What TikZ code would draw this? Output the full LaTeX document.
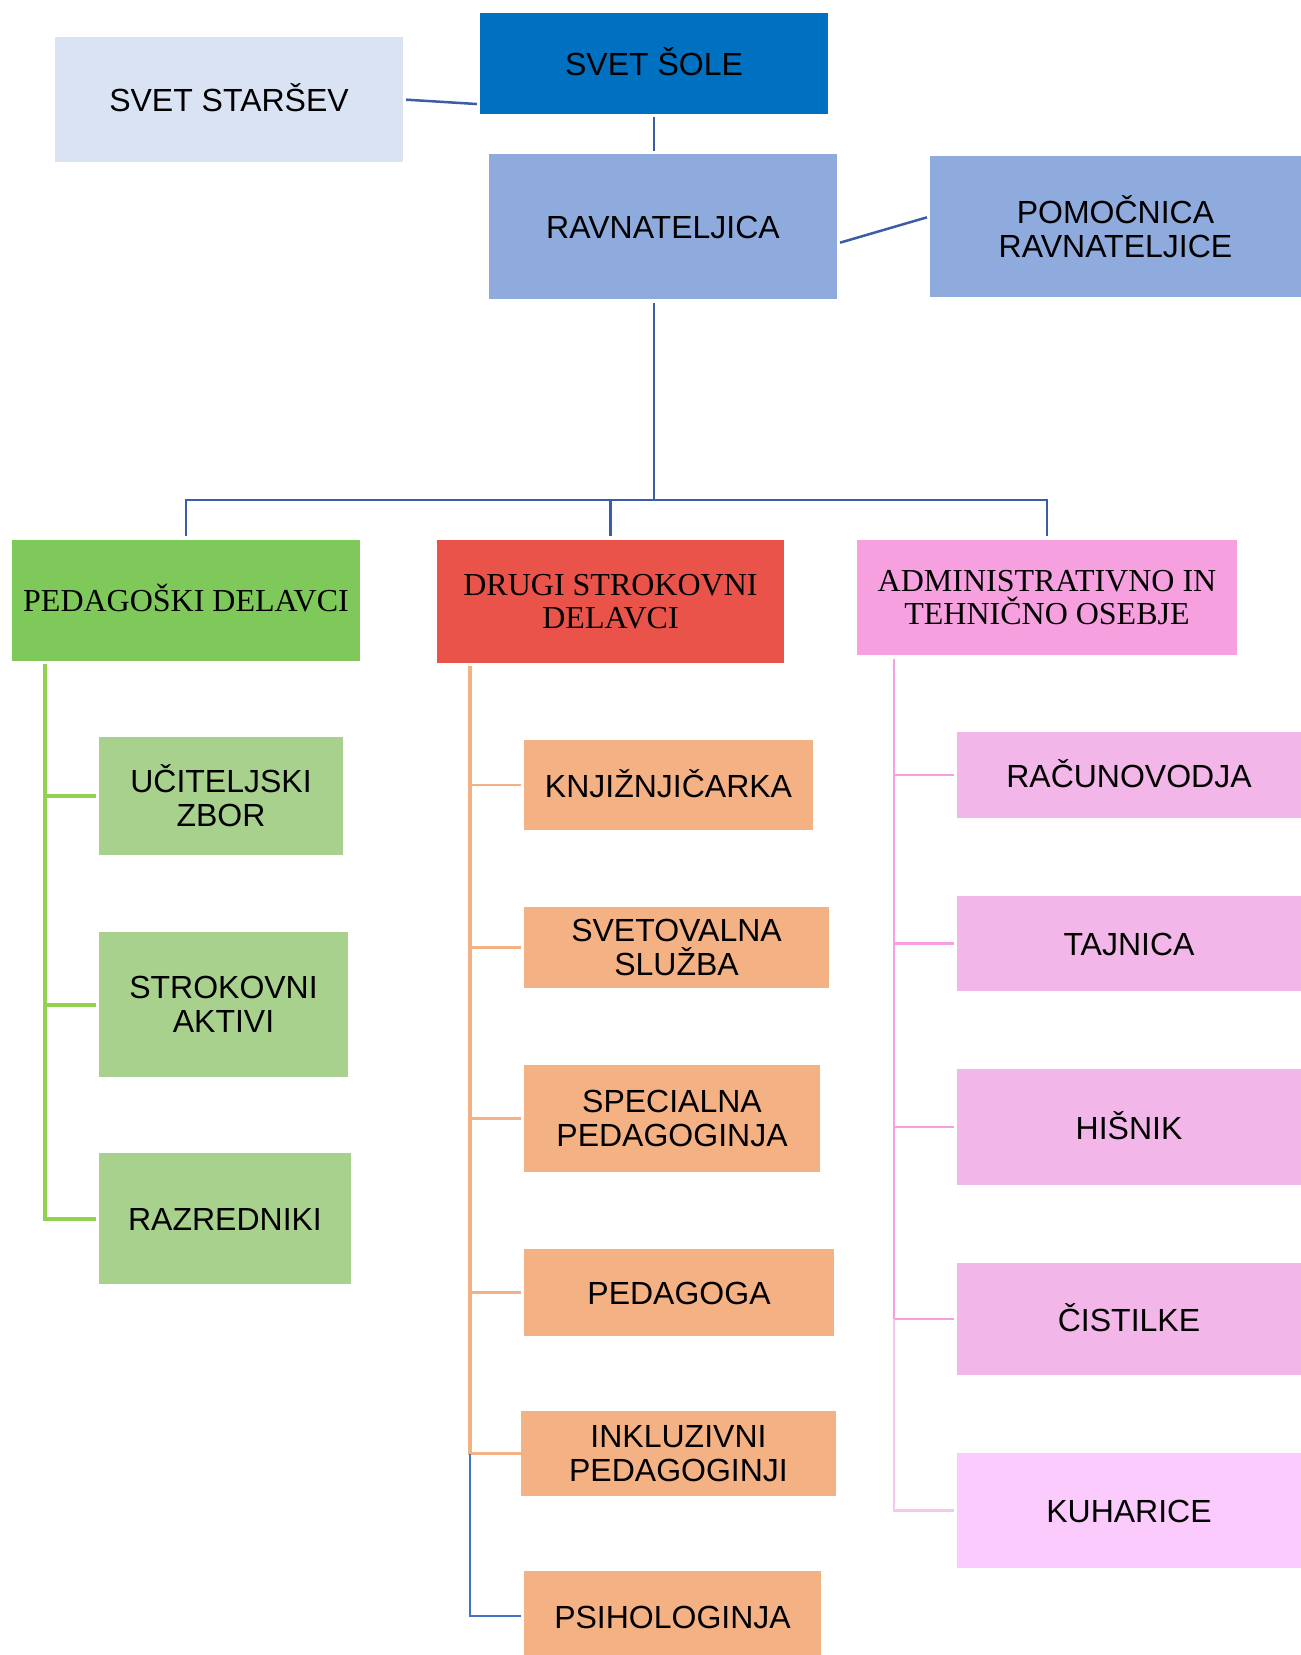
\documentclass[tikz,border=0pt]{standalone}
\usepackage{fontspec}
\setmainfont{Liberation Serif}
\newfontfamily\arialfont{Liberation Sans}
\usepackage{tikz}

\definecolor{starsevfill}{HTML}{DAE3F3}
\definecolor{solefill}{HTML}{0070C0}
\definecolor{ravnfill}{HTML}{8FAADC}
\definecolor{pedfill}{HTML}{7FC95A}
\definecolor{greenfill}{HTML}{A9D18E}
\definecolor{drugifill}{HTML}{E9534A}
\definecolor{orangefill}{HTML}{F4B183}
\definecolor{admfill}{HTML}{F7A0E0}
\definecolor{pinkfill}{HTML}{F2B6E8}
\definecolor{kuhfill}{HTML}{FBCBFD}
\definecolor{blueline}{HTML}{3B5CA6}
\definecolor{psihline}{HTML}{4472C4}
\definecolor{greenline}{HTML}{92D050}
\definecolor{orangeline}{HTML}{F4B183}
\definecolor{pinkline}{HTML}{F7A0E0}
\definecolor{pinklight}{HTML}{F6C6EE}

\tikzset{
  box/.style={inner sep=0pt, align=center, text=black,
    font=\arialfont\fontsize{32}{34}\selectfont},
  headbox/.style={inner sep=0pt, align=center, text=black,
    font=\fontsize{32}{33}\selectfont},
  oneline/.style={text height=24pt, text depth=0pt},
  bline/.style={draw=blueline, line width=2.5pt},
  gline/.style={draw=greenline, line width=4pt},
  oline/.style={draw=orangeline, line width=3.5pt},
  obranch/.style={draw=orangeline, line width=2.5pt},
  pline/.style={draw=pinkline, line width=2.5pt},
}

\begin{document}
\begin{tikzpicture}[x=1pt,y=-1pt]
\useasboundingbox (0,0) rectangle (1301,1655);

% top of the chart
\node[box, oneline, fill=starsevfill, minimum width=348pt, minimum height=125pt] (starsev) at (229,99.5) {SVET STARŠEV};
\node[box, oneline, fill=solefill, minimum width=348pt, minimum height=101pt] (sole) at (654,63.5) {SVET ŠOLE};
\node[box, oneline, fill=ravnfill, minimum width=348pt, minimum height=145pt] (ravn) at (663,226.5) {RAVNATELJICA};
\node[box, fill=ravnfill, minimum width=371pt, minimum height=141pt] (pom) at (1115.5,226.5) {POMOČNICA\\RAVNATELJICE};

\draw[bline, shorten <=3pt, shorten >=3pt] (starsev.east) -- ([yshift=10pt]sole.south west);
\draw[bline, shorten <=3pt, shorten >=3pt] (sole.south) -- (sole.south |- ravn.north);
\draw[bline, shorten <=3pt, shorten >=3pt] ([yshift=-17pt]ravn.east) -- ([yshift=10pt]pom.west);

% three groups
\node[headbox, text height=22pt, text depth=0pt, fill=pedfill, minimum width=348pt, minimum height=121pt] (ped) at (186,600.5) {PEDAGOŠKI DELAVCI};
\node[headbox, fill=drugifill, minimum width=347pt, minimum height=123pt] (drugi) at (610.5,601.5) {DRUGI STROKOVNI\\DELAVCI};
\node[headbox, fill=admfill, minimum width=380pt, minimum height=115pt] (adm) at (1047,597.5) {ADMINISTRATIVNO IN\\TEHNIČNO OSEBJE};

\coordinate (bus) at (654,500);
\draw[bline, shorten <=4pt] (ravn.south -| bus) -- (bus);
\draw[bline, shorten <=4pt, shorten >=4pt] (ped.north) |- (bus) -| (adm.north);
\draw[bline, shorten >=4pt] (drugi.north |- bus) -- (drugi.north);

% pedagoski delavci
\node[box, fill=greenfill, minimum width=244pt, minimum height=118pt] (ucit) at (221,796) {UČITELJSKI\\ZBOR};
\node[box, fill=greenfill, minimum width=249pt, minimum height=145pt] (strok) at (223.5,1004.5) {STROKOVNI\\AKTIVI};
\node[box, oneline, fill=greenfill, minimum width=252pt, minimum height=131pt] (razr) at (225,1218.5) {RAZREDNIKI};

\coordinate (gtop) at (45,664);
\draw[gline, shorten >=3pt] (gtop) |- (razr.west);
\foreach \n in {ucit,strok}
  \draw[gline, shorten <=3pt] (\n.west) -- (\n.west -| gtop);

% drugi strokovni delavci
\node[box, oneline, fill=orangefill, minimum width=289pt, minimum height=90pt] (knjiz) at (668.5,785) {KNJIŽNJIČARKA};
\node[box, fill=orangefill, minimum width=305pt, minimum height=81pt] (svet) at (676.5,947.5) {SVETOVALNA\\SLUŽBA};
\node[box, fill=orangefill, minimum width=296pt, minimum height=107pt] (spec) at (672,1118.5) {SPECIALNA\\PEDAGOGINJA};
\node[box, oneline, fill=orangefill, minimum width=310pt, minimum height=87pt] (pedg) at (679,1292.5) {PEDAGOGA};
\node[box, fill=orangefill, minimum width=315pt, minimum height=85pt] (inkl) at (678.5,1453.5) {INKLUZIVNI\\PEDAGOGINJI};
\node[box, oneline, fill=orangefill, minimum width=297pt, minimum height=90pt] (psih) at (672.5,1616) {PSIHOLOGINJA};

\coordinate (otop) at (470,666);
\draw[oline] (otop) |- (inkl.west);
\foreach \n in {knjiz,svet,spec,pedg}
  \draw[obranch, shorten <=3pt] (\n.west) -- (\n.west -| otop);
\draw[draw=psihline, line width=2.5pt, shorten >=3pt] (otop |- inkl.west) |- (psih.west);

% administrativno in tehnicno osebje
\node[box, oneline, fill=pinkfill, minimum width=344pt, minimum height=86pt] (racun) at (1129,775) {RAČUNOVODJA};
\node[box, oneline, fill=pinkfill, minimum width=344pt, minimum height=95pt] (tajn) at (1129,943.5) {TAJNICA};
\node[box, oneline, fill=pinkfill, minimum width=344pt, minimum height=116pt] (hisn) at (1129,1127) {HIŠNIK};
\node[box, oneline, fill=pinkfill, minimum width=344pt, minimum height=112pt] (cist) at (1129,1319) {ČISTILKE};
\node[box, oneline, fill=kuhfill, minimum width=344pt, minimum height=115pt] (kuh) at (1129,1510.5) {KUHARICE};

\coordinate (ptop) at (894,659);
\draw[pline] (ptop) -- (ptop |- cist.west);
\foreach \n in {racun,tajn,hisn,cist}
  \draw[pline, shorten <=3pt] (\n.west) -- (\n.west -| ptop);
\draw[pline, draw=pinklight, shorten >=3pt] (ptop |- cist.west) |- (kuh.west);
\end{tikzpicture}
\end{document}
